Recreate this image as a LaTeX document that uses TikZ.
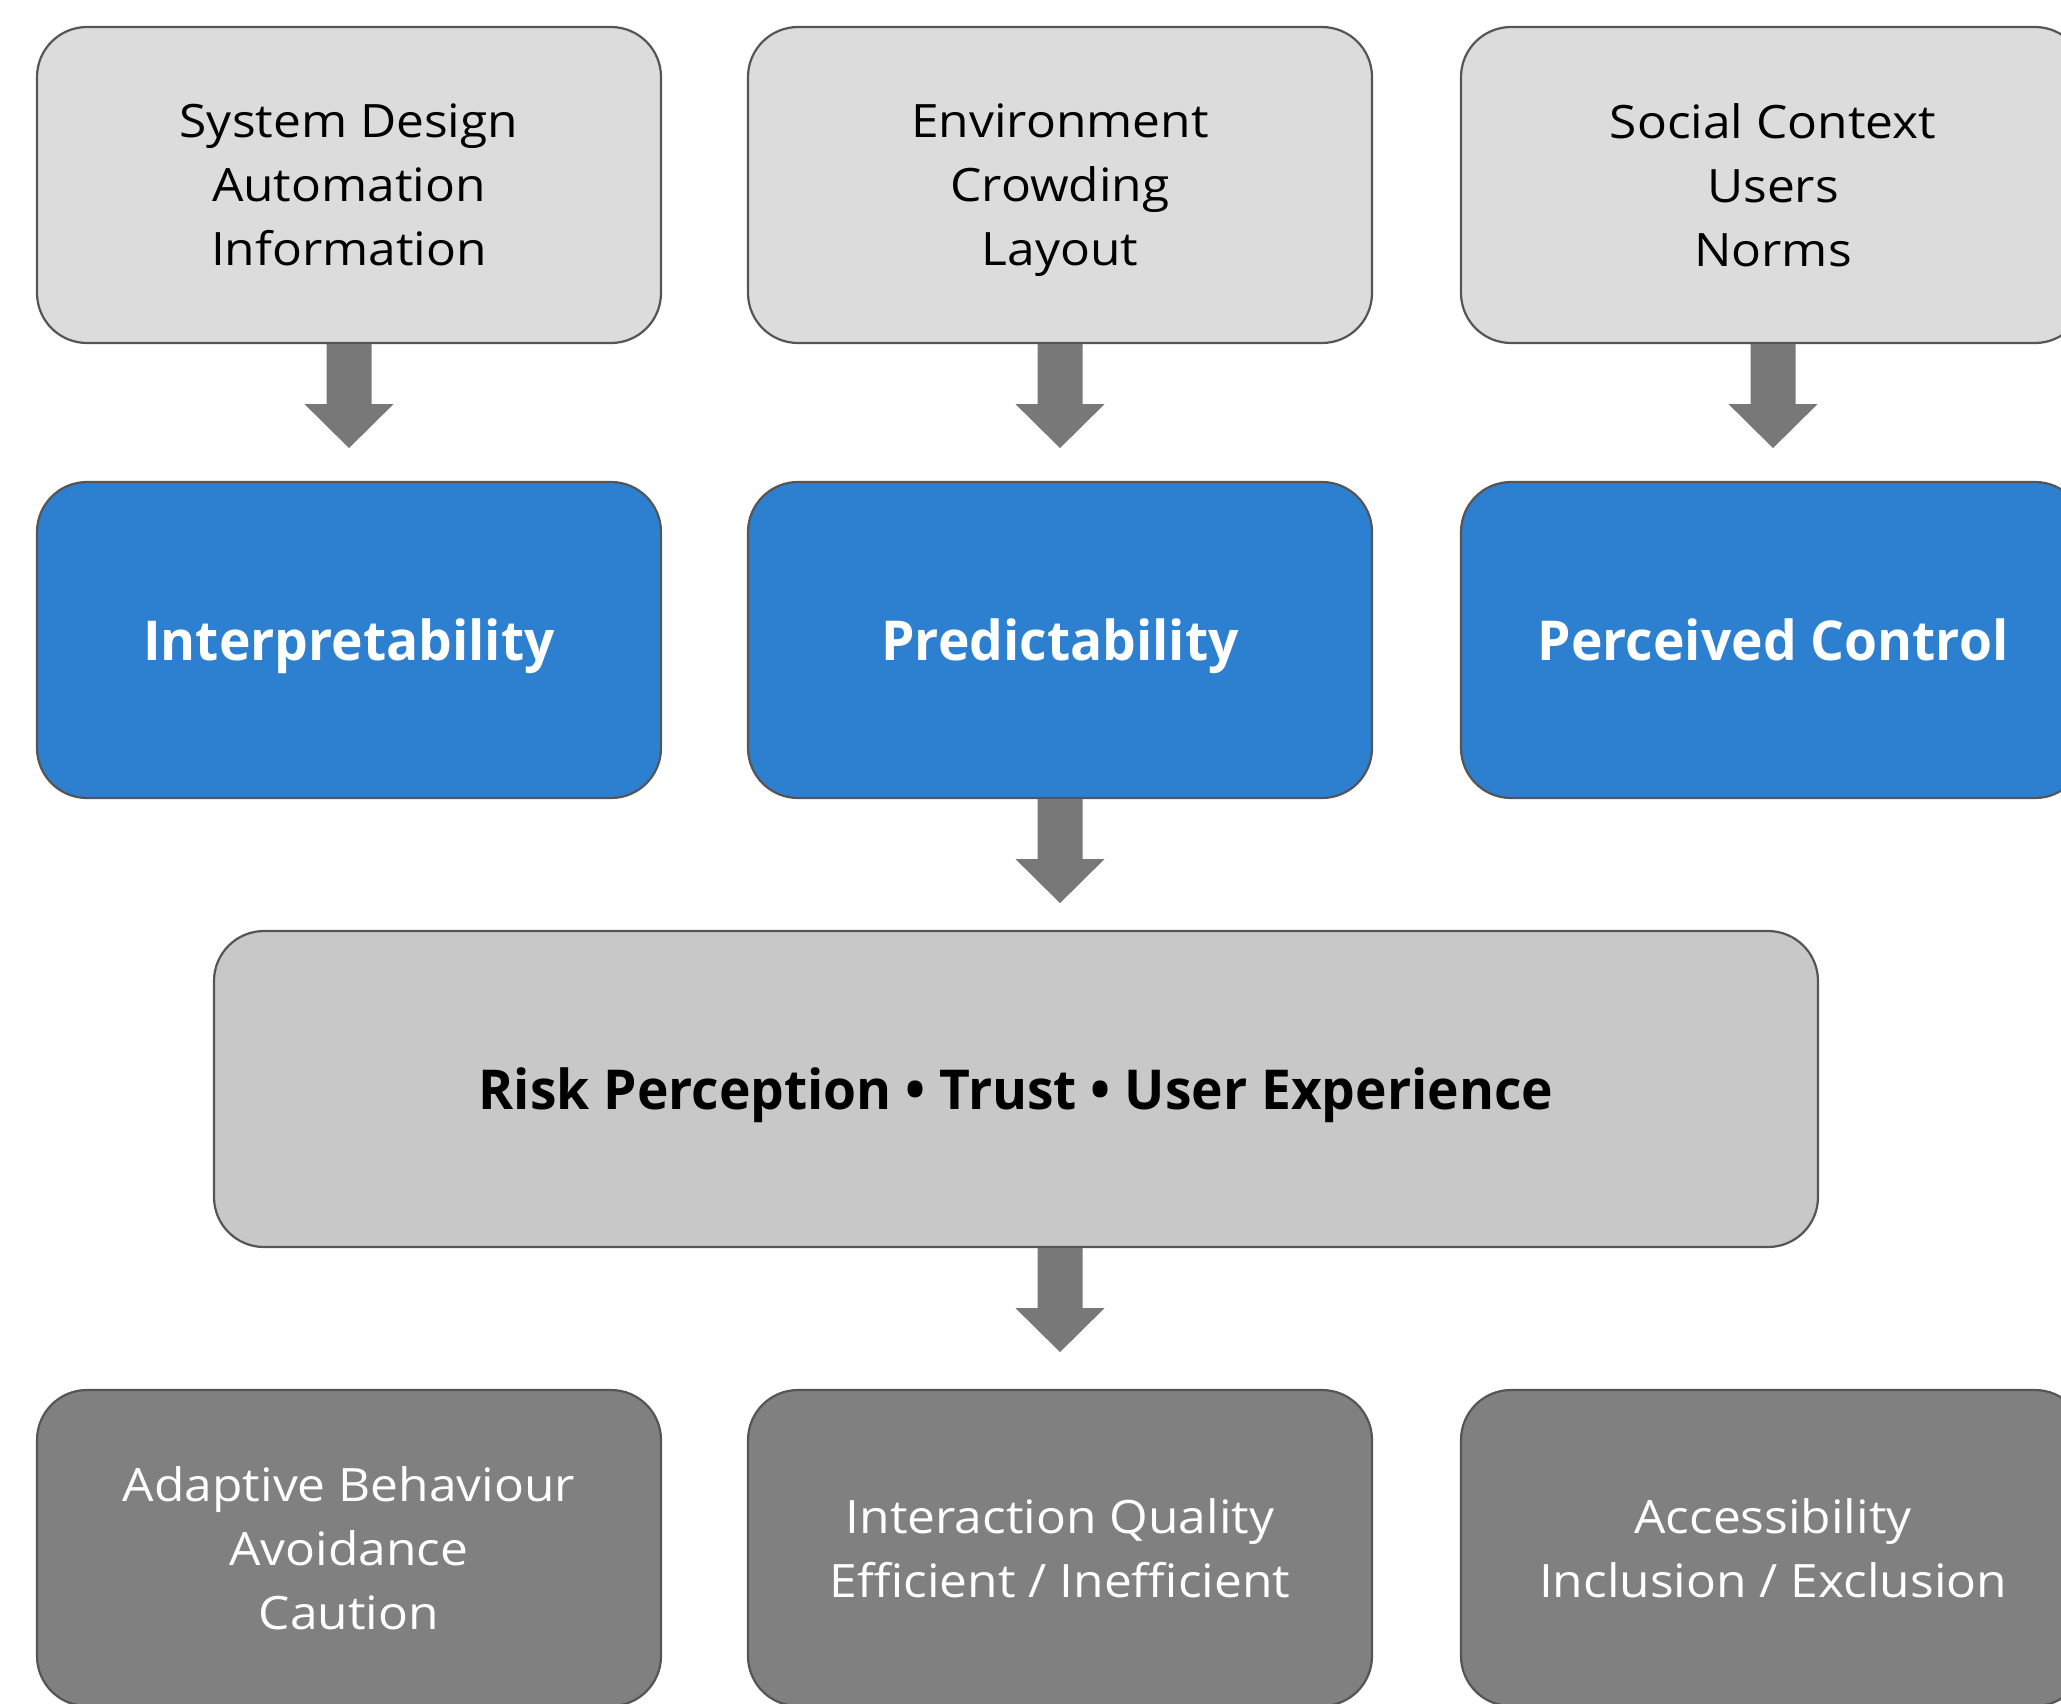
\documentclass[tikz,border=0pt]{standalone}
\usepackage{fontspec}
\setmainfont{Open Sans}[FakeStretch=1.08]
\newfontfamily\headfont{Open Sans}[FakeStretch=0.97]
\usetikzlibrary{calc}
\definecolor{srcgray}{HTML}{DCDCDC}
\definecolor{keyblue}{HTML}{2D7FCF}
\definecolor{hubgray}{HTML}{C8C8C8}
\definecolor{outgray}{HTML}{808080}
\definecolor{edgegray}{HTML}{555555}
\definecolor{arrowgray}{HTML}{787878}
\begin{document}
\begin{tikzpicture}[x=1pt,y=-1pt,
  card/.style={draw=edgegray, line width=2.2pt, rounded corners=50pt,
    minimum width=624pt, minimum height=316pt, align=center, inner sep=0pt},
  plaintext/.style={font=\fontsize{46}{64}\selectfont, text depth=-2pt},
  boldtext/.style={font=\headfont\fontsize{55}{66}\selectfont\bfseries,
    execute at begin node={\rule{0pt}{56.4pt}},
    execute at end node={\rule[-16pt]{0pt}{16pt}}},
  source/.style={card, plaintext, fill=srcgray},
  factor/.style={card, boldtext, fill=keyblue, text=white},
  hub/.style={card, boldtext, fill=hubgray, minimum width=1604pt},
  outcome/.style={card, plaintext, fill=outgray, text=white},
  blockarrow/.style={fill=arrowgray}]
\useasboundingbox (0,0) rectangle (2061,1703);

% inputs
\node[source] (s1) at (349,185)  {System Design\\Automation\\Information};
\node[source] (s2) at (1060,185) {Environment\\Crowding\\Layout};
\node[source] (s3) at (1773,185) {Social Context\\Users\\Norms};

% mediating factors
\node[factor] (f1) at (349,640)  {Interpretability};
\node[factor] (f2) at (1060,640) {Predictability};
\node[factor] (f3) at (1773,640) {Perceived Control};

% central appraisal
\node[hub] (hub) at (1016,1089) {Risk Perception • Trust • User Experience};

% outcomes
\node[outcome] (o1) at (349,1548)  {Adaptive Behaviour\\Avoidance\\Caution};
\node[outcome] (o2) at (1060,1548) {Interaction Quality\\Efficient / Inefficient};
\node[outcome] (o3) at (1773,1548) {Accessibility\\Inclusion / Exclusion};

% block arrows (from / to / column): shaft 45 wide, head 89 wide, length 104
\foreach \a/\b/\c in {s1/f1/s1, s2/f2/s2, s3/f3/s3, f2/hub/f2, hub/o2/o2}{
  \coordinate (top) at (\c |- \a.south);
  \fill[blockarrow] ($(top)+(-22.5,0)$) -- ($(top)+(-22.5,60)$)
    -- ($(top)+(-44.5,60)$) -- ($(top)+(0,104)$) -- ($(top)+(44.5,60)$)
    -- ($(top)+(22.5,60)$) -- ($(top)+(22.5,0)$) -- cycle;
}
\end{tikzpicture}
\end{document}
